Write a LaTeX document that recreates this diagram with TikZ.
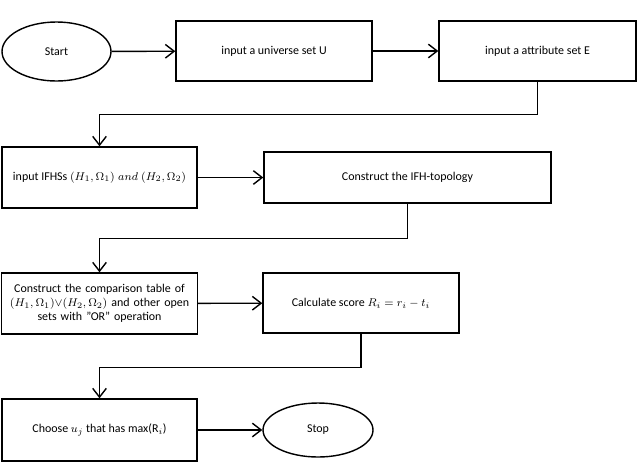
\documentclass[tikz,border=0pt]{standalone}
\usepackage{fontspec}
\setmainfont{Carlito}
\usetikzlibrary{shapes.geometric,arrows.meta}

\tikzset{
  caja/.style={draw, line width=1pt, rectangle, align=center, inner sep=2pt,
    font=\fontsize{8.5}{10}\selectfont},
  elipse/.style={draw, line width=1pt, ellipse, inner sep=0pt,
    font=\fontsize{8.5}{10}\selectfont},
  flecha/.style={-{Straight Barb[length=2.2mm,width=3.4mm]}, line width=1pt}
}

\begin{document}
\begin{tikzpicture}
\useasboundingbox (0,0) rectangle (16,-11.625);

% Fila 1
\node[elipse, minimum width=2.725cm, minimum height=1.475cm] (inicio) at (1.4125,-1.2875) {Start};
\node[caja, minimum width=4.9cm, minimum height=1.5cm] (universo) at (6.85,-1.275) {input a universe set U};
\node[caja, minimum width=4.925cm, minimum height=1.5cm] (atributo) at (13.4375,-1.275) {input a attribute set E};

% Fila 2
\node[caja, minimum width=4.875cm, minimum height=1.525cm] (ifhss) at (2.4875,-4.4375) {input IFHSs $(H_1,\Omega_1)\;and\;(H_2,\Omega_2)$};
\node[caja, minimum width=7.175cm, minimum height=1.275cm] (topologia) at (10.1875,-4.4375) {Construct the IFH-topology};

% Fila 3
\node[caja, minimum width=4.875cm, minimum height=1.525cm, text width=4.75cm] (tabla) at (2.4875,-7.5875)
  {Construct the comparison table of\\ $(H_1,\Omega_1){\vee}(H_2,\Omega_2)$ and other open\\ sets with "OR" operation};
\node[caja, minimum width=4.9cm, minimum height=1.5cm] (puntaje) at (9.025,-7.575) {Calculate score $R_i=r_i-t_i$};

% Fila 4
\node[caja, minimum width=4.875cm, minimum height=1.55cm] (elegir) at (2.4875,-10.75) {Choose $u_j$ that has max(R$_i$)};
\node[elipse, minimum width=2.75cm, minimum height=1.35cm] (fin) at (7.95,-10.75) {Stop};

% Flechas
\draw[flecha] (inicio) -- (universo);
\draw[flecha] (universo) -- (atributo);
\draw[flecha] (atributo.south) -- ++(0,-0.825) -| (ifhss.north);
\draw[flecha] (ifhss) -- (topologia);
\draw[flecha] (topologia.south) -- ++(0,-0.875) -| (tabla.north);
\draw[flecha] (tabla) -- (puntaje);
\draw[flecha] (puntaje.south) -- ++(0,-0.85) -| (elegir.north);
\draw[flecha] (elegir) -- (fin);
\end{tikzpicture}
\end{document}
